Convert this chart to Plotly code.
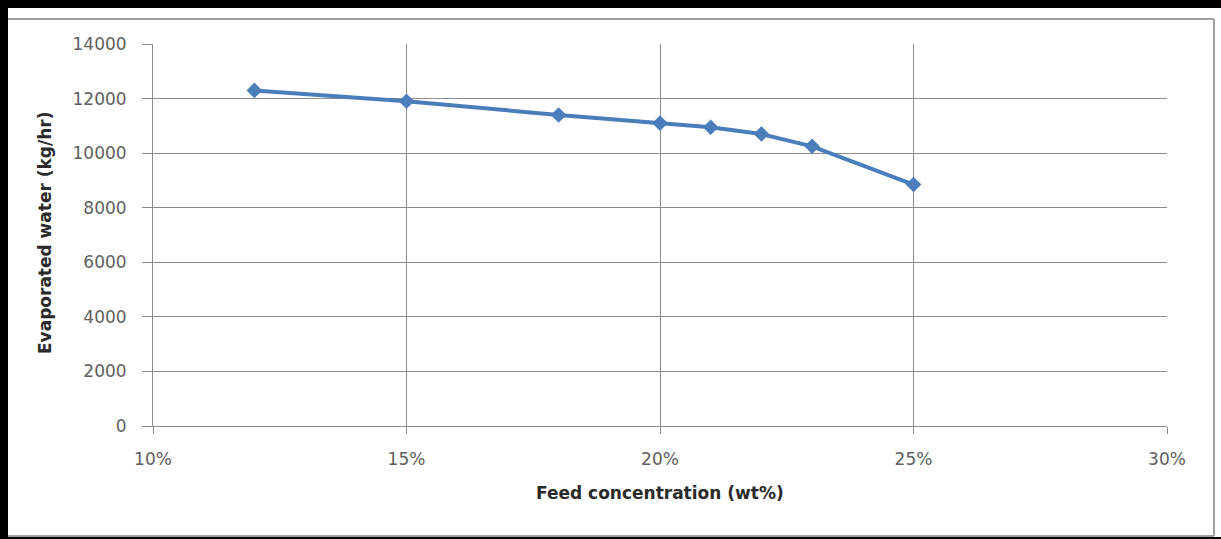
import plotly.graph_objects as go

feed_conc = [0.12, 0.15, 0.18, 0.20, 0.21, 0.22, 0.23, 0.25]
evap_water = [12300, 11900, 11400, 11100, 10950, 10700, 10250, 8850]

x_ticks = [0.10, 0.15, 0.20, 0.25, 0.30]
x_tick_labels = ["10%", "15%", "20%", "25%", "30%"]
y_ticks = [0, 2000, 4000, 6000, 8000, 10000, 12000, 14000]
y_tick_labels = ["0", "2000", "4000", "6000", "8000", "10000", "12000", "14000"]

x_title = "Feed concentration (wt%)"
y_title = "Evaporated water (kg/hr)"

W, H = 1221, 539
L, R, T, B = 153, 1167, 44, 426

def px(x):
    return (x - L) / (R - L)

def py(y):
    return (B - y) / (B - T)

fig = go.Figure()
fig.add_trace(go.Scatter(
    x=feed_conc, y=evap_water, mode="lines+markers",
    line=dict(color="#4A7EBB", width=4),
    marker=dict(symbol="diamond", size=12, color="#4A7EBB"),
    showlegend=False,
))

grid = "#8C8C8C"
tickfont = dict(family="DejaVu Sans, sans-serif", size=17, color="#606060")
titlefont = dict(family="DejaVu Sans, sans-serif", size=17, color="#2A2A2A")

fig.update_xaxes(
    range=[0.10, 0.30], tickvals=x_ticks, ticktext=x_tick_labels,
    showgrid=True, gridcolor=grid, gridwidth=1,
    showline=True, linecolor=grid, linewidth=1,
    ticks="outside", ticklen=7, tickcolor=grid,
    tickfont=tickfont, zeroline=False, ticklabelstandoff=11,
)
fig.update_yaxes(
    range=[0, 14000], tickvals=y_ticks, ticktext=y_tick_labels,
    showgrid=True, gridcolor=grid, gridwidth=1,
    showline=True, linecolor=grid, linewidth=1,
    ticks="outside", ticklen=10, tickcolor=grid,
    tickfont=tickfont, zeroline=False, ticklabelstandoff=12,
)

shapes = []
for x0, y0, x1, y1 in [(0, 0, W, 8), (0, 0, 8, H), (0, 537, W, H)]:
    shapes.append(dict(type="rect", xref="paper", yref="paper",
                       x0=px(x0), x1=px(x1), y0=py(y1), y1=py(y0),
                       fillcolor="black", line=dict(width=0), layer="above"))
for x0, y0, x1, y1 in [(8, 19, 1214, 19), (1214, 19, 1214, 536), (8, 536, 1214, 536)]:
    shapes.append(dict(type="line", xref="paper", yref="paper",
                       x0=px(x0), x1=px(x1), y0=py(y0), y1=py(y1),
                       line=dict(color="#A0A0A0", width=2), layer="above"))

annotations = [
    dict(text="<b>" + x_title + "</b>", xref="paper", yref="paper",
         x=px(660), y=py(493), xanchor="center", yanchor="middle",
         showarrow=False, font=titlefont),
    dict(text="<b>" + y_title + "</b>", xref="paper", yref="paper",
         x=px(45), y=py(233), xanchor="center", yanchor="middle",
         textangle=-90, showarrow=False, font=titlefont),
]

fig.update_layout(
    width=W, height=H,
    margin=dict(l=L, r=W - R, t=T, b=H - B),
    paper_bgcolor="white", plot_bgcolor="white",
    shapes=shapes, annotations=annotations,
)

fig.write_html("out.html")
